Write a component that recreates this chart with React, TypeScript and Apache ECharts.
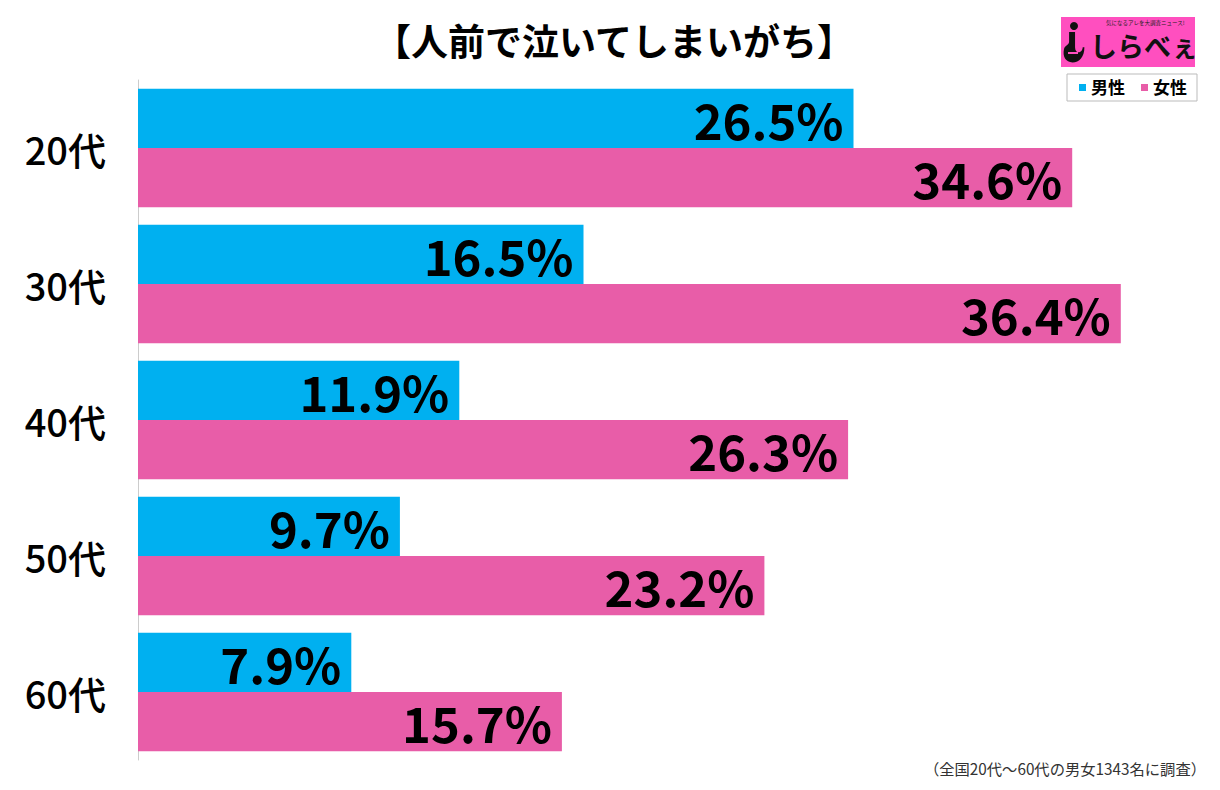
import React, { useEffect, useRef } from "react";
import * as echarts from "echarts";

const categories = ["20代", "30代", "40代", "50代", "60代"];
const maleValues = [26.5, 16.5, 11.9, 9.7, 7.9];
const femaleValues = [34.6, 36.4, 26.3, 23.2, 15.7];
const seriesNames = ["男性", "女性"];
const titleText = "【人前で泣いてしまいがち】";
const footnote = "（全国20代～60代の男女1343名に調査）";

const BLUE = "#00B0F0";
const PINK = "#E85DA8";
const FONT = "'Noto Sans CJK JP', 'Noto Sans', sans-serif";

echarts.graphic.registerShape(
  "ilogo",
  echarts.graphic.extendPath(
    "M6 0 L13 0 L13 16 C13 24 22 22 22 16 L24 16 C24 26 18 32 10 32 C2 32 -2 26 0 18 C1 14 6 14 6 10 Z",
    {}
  )
);

export default function App() {
  const ref = useRef<HTMLDivElement>(null);
  useEffect(() => {
    document.body.style.margin = "0";
    const chart = echarts.init(ref.current!, null, { renderer: "svg" });
    const labelCfg = {
      show: true,
      position: "insideRight",
      distance: 10,
      color: "#000",
      fontSize: 49,
      fontWeight: "bold",
      fontFamily: FONT,
      formatter: (p: any) => Number(p.value).toFixed(1) + "%",
    };
    chart.setOption({
      animation: false,
      backgroundColor: "#fff",
      title: {
        text: titleText,
        left: 609,
        textAlign: "center",
        top: 16,
        textStyle: { fontSize: 37, fontWeight: "bold", color: "#000", fontFamily: FONT },
      },
      grid: { left: 138, top: 80, width: 1080, height: 680, containLabel: false },
      xAxis: {
        type: "value",
        min: 0,
        max: 40,
        show: false,
      },
      yAxis: {
        type: "category",
        data: categories,
        inverse: true,
        axisLine: { show: true, lineStyle: { color: "#cccccc", width: 1 } },
        axisTick: { show: false },
        axisLabel: { fontSize: 38, color: "#000", margin: 32, fontFamily: FONT, fontWeight: 500 },
      },
      series: [
        {
          name: seriesNames[0],
          type: "bar",
          data: maleValues,
          itemStyle: { color: BLUE },
          barGap: "0%",
          barCategoryGap: "13%",
          label: labelCfg,
        },
        {
          name: seriesNames[1],
          type: "bar",
          data: femaleValues,
          itemStyle: { color: PINK },
          barGap: "0%",
          barCategoryGap: "13%",
          label: labelCfg,
        },
      ],
      graphic: [
        { type: "rect", shape: { x: 1061, y: 17, width: 134, height: 50 }, style: { fill: "#FF4FBF" } },
        { type: "circle", shape: { cx: 1074, cy: 26, r: 4 }, style: { fill: "#111" } },
        { type: "ilogo", x: 1064, y: 32, scaleX: 0.85, scaleY: 0.95, style: { fill: "#111" } },
        { type: "rect", shape: { x: 1068, y: 52, width: 10, height: 2 }, style: { fill: "#FF4FBF" } },
        {
          type: "text",
          x: 1106,
          y: 20,
          style: { text: "気になるアレを大調査ニュース!", fontSize: 5.5, fill: "#222", fontFamily: FONT },
        },
        {
          type: "text",
          x: 1090,
          y: 32,
          style: { text: "しらべぇ", fontSize: 27, fontWeight: "bold", fill: "#111", fontFamily: FONT },
        },
        {
          type: "rect",
          shape: { x: 1067, y: 74, width: 130, height: 27 },
          style: { fill: "#fff", stroke: "#bbbbbb", lineWidth: 1 },
        },
        { type: "rect", shape: { x: 1079, y: 84, width: 7, height: 7 }, style: { fill: BLUE } },
        {
          type: "text",
          x: 1091,
          y: 78,
          style: { text: seriesNames[0], fontSize: 17, fontWeight: "bold", fill: "#000", fontFamily: FONT },
        },
        { type: "rect", shape: { x: 1141, y: 84, width: 7, height: 7 }, style: { fill: PINK } },
        {
          type: "text",
          x: 1153,
          y: 78,
          style: { text: seriesNames[1], fontSize: 17, fontWeight: "bold", fill: "#000", fontFamily: FONT },
        },
        {
          type: "text",
          right: 14,
          top: 760,
          style: { text: footnote, fontSize: 15.3, fill: "#333", fontFamily: FONT },
        },
      ],
    });
    return () => chart.dispose();
  }, []);
  return <div ref={ref} style={{ width: 1220, height: 790 }} />;
}
